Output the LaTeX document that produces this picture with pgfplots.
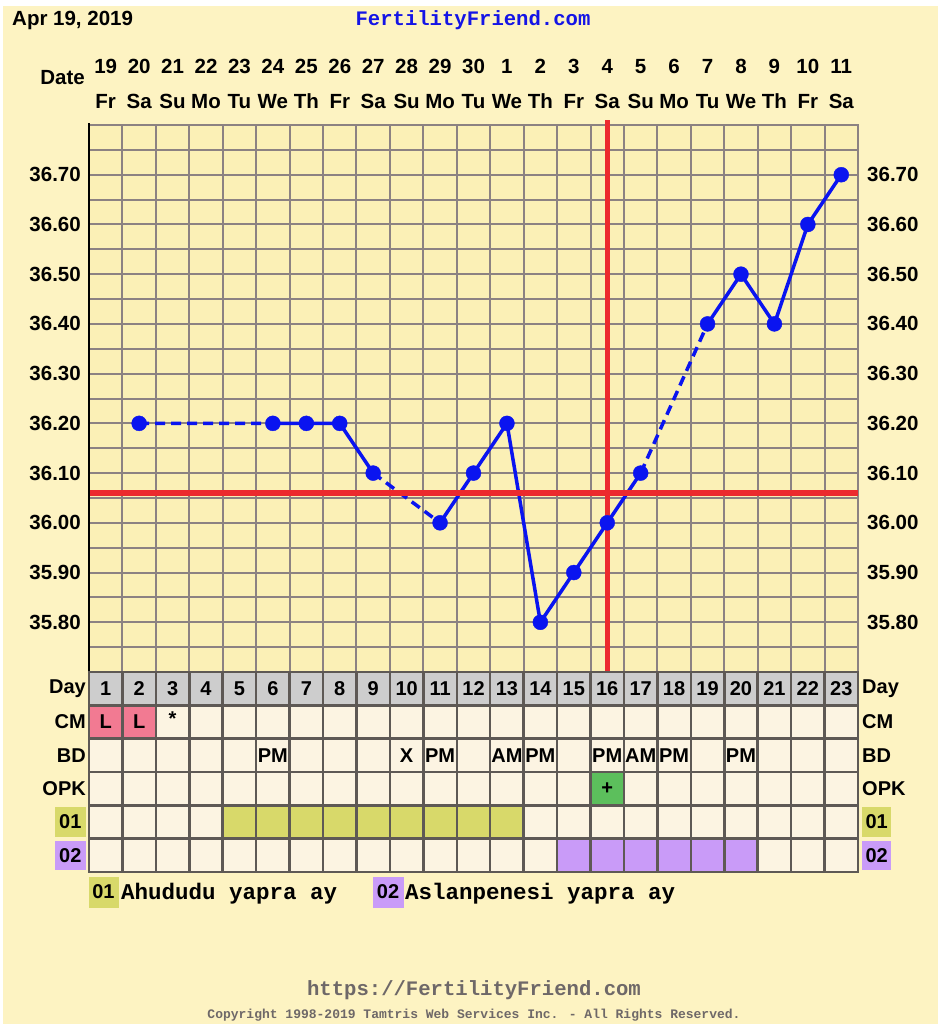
\documentclass[border=0pt]{standalone}
\usepackage{pgfplots}
\pgfplotsset{compat=1.18}
\usepackage{fontspec}
\setmainfont{Liberation Sans}
\newfontfamily\monofont{Liberation Mono}
\definecolor{pagebg}{HTML}{FDF3C2}
\definecolor{plotbg}{HTML}{FBF0B6}
\definecolor{gridc}{HTML}{8C8282}
\definecolor{cellbg}{HTML}{FCF4E2}
\definecolor{dayrow}{HTML}{CDCDCD}
\definecolor{tablegrid}{HTML}{5E5955}
\definecolor{cmpink}{HTML}{F27A92}
\definecolor{opkgreen}{HTML}{5CBF5C}
\definecolor{olive}{HTML}{D8D96A}
\definecolor{purp}{HTML}{C99BF8}
\definecolor{tempblue}{HTML}{0A14F0}
\definecolor{redline}{HTML}{EC2A2E}
\definecolor{titleblue}{HTML}{1414E6}
\definecolor{footgray}{HTML}{6E6868}
\newcommand{\bfs}{\fontsize{20.5}{35}\selectfont\bfseries}
\tikzset{tbl/.style={font=\fontsize{20}{24}\selectfont\bfseries}}
\begin{document}
\begin{tikzpicture}[x=1pt,y=-1pt]
\fill[white] (0,0) rectangle (938,1024);
\fill[pagebg] (3,6) rectangle (938,1024);

% ---------------- temperature axis ----------------
\begin{axis}[
  at={(89pt,-672pt)}, anchor=south west,
  scale only axis, width=769pt, height=547pt,
  xmin=0.5, xmax=23.5, ymin=35.70, ymax=36.80,
  clip=false,
  axis background/.style={fill=plotbg},
  axis line style={draw=gridc, line width=2pt},
  major tick length=0pt, minor tick length=0pt,
  xtick={1,...,23},
  xticklabels={{19\\Fr},{20\\Sa},{21\\Su},{22\\Mo},{23\\Tu},{24\\We},{25\\Th},{26\\Fr},{27\\Sa},{28\\Su},{29\\Mo},{30\\Tu},{1\\We},{2\\Th},{3\\Fr},{4\\Sa},{5\\Su},{6\\Mo},{7\\Tu},{8\\We},{9\\Th},{10\\Fr},{11\\Sa}},
  xticklabel pos=upper,
  xticklabel style={align=center, font=\bfs, inner sep=0pt, anchor=south, yshift=16pt},
  extra x ticks={1.5,2.5,3.5,4.5,5.5,6.5,7.5,8.5,9.5,10.5,11.5,12.5,13.5,14.5,15.5,16.5,17.5,18.5,19.5,20.5,21.5,22.5},
  extra x tick labels={},
  extra x tick style={grid=major},
  ytick={35.8,35.9,36.0,36.1,36.2,36.3,36.4,36.5,36.6,36.7},
  minor ytick={35.75,35.85,35.95,36.05,36.15,36.25,36.35,36.45,36.55,36.65,36.75},
  ymajorgrids, yminorgrids,
  major grid style={draw=gridc, line width=2pt},
  minor grid style={draw=gridc, line width=2pt},
  yticklabel style={font=\bfs, inner sep=0pt, xshift=-8pt},
  /pgf/number format/.cd, fixed, fixed zerofill, precision=2, assume math mode=true,
]
% dashed gaps
\addplot[tempblue, line width=3.5pt, dash pattern=on 10pt off 6pt, unbounded coords=jump]
  coordinates {(2,36.20)(6,36.20)(7,nan)(9,36.10)(11,36.00)(12,nan)(17,36.10)(19,36.40)};
% solid runs
\addplot[tempblue, line width=3.5pt, line join=round, unbounded coords=jump]
  coordinates {(6,36.20)(7,36.20)(8,36.20)(9,36.10)(10,nan)(11,36.00)(12,36.10)(13,36.20)(14,35.80)(15,35.90)(16,36.00)(17,36.10)(18,nan)(19,36.40)(20,36.50)(21,36.40)(22,36.60)(23,36.70)};
% points
\addplot[only marks, mark=*, mark size=7.5pt, mark options={fill=tempblue, draw=tempblue}]
  coordinates {(2,36.20)(6,36.20)(7,36.20)(8,36.20)(9,36.10)(11,36.00)(12,36.10)(13,36.20)(14,35.80)(15,35.90)(16,36.00)(17,36.10)(19,36.40)(20,36.50)(21,36.40)(22,36.60)(23,36.70)};
% coverline and ovulation line
\addplot[redline, line width=5.5pt] coordinates {(0.5,36.06)(23.5,36.06)};
\addplot[redline, line width=5pt] coordinates {(16,35.70)(16,36.81)};
\draw[black, line width=2.5pt] (axis cs:0.5,35.70) -- (axis cs:0.5,36.805);
\end{axis}

% right-hand tick labels
\begin{axis}[
  at={(89pt,-672pt)}, anchor=south west,
  scale only axis, width=769pt, height=547pt,
  xmin=0.5, xmax=23.5, ymin=35.70, ymax=36.80,
  axis line style={draw=none}, major tick length=0pt,
  xtick=\empty,
  ytick={35.8,35.9,36.0,36.1,36.2,36.3,36.4,36.5,36.6,36.7},
  yticklabel pos=right,
  yticklabel style={font=\bfs, inner sep=0pt, anchor=west, xshift=9pt},
  /pgf/number format/.cd, fixed, fixed zerofill, precision=2, assume math mode=true,
]
\end{axis}

% ---------------- chart table ----------------
\begin{axis}[
  at={(89pt,-872pt)}, anchor=south west,
  scale only axis, width=769pt, height=200pt,
  xmin=0.5, xmax=23.5, ymin=0, ymax=6,
  clip=false, axis on top,
  axis background/.style={fill=cellbg},
  axis line style={draw=tablegrid, line width=2.5pt},
  major tick length=0pt,
  xtick={1.5,2.5,3.5,4.5,5.5,6.5,7.5,8.5,9.5,10.5,11.5,12.5,13.5,14.5,15.5,16.5,17.5,18.5,19.5,20.5,21.5,22.5},
  ytick={1,2,3,4,5},
  xticklabels={}, yticklabels={},
  grid=major,
  major grid style={draw=tablegrid, line width=2.5pt},
]
\fill[dayrow] (axis cs:0.5,5) rectangle (axis cs:23.5,6);
\fill[cmpink] (axis cs:0.5,4) rectangle (axis cs:2.5,5);
\fill[opkgreen] (axis cs:15.5,2) rectangle (axis cs:16.5,3);
\fill[olive] (axis cs:4.5,1) rectangle (axis cs:13.5,2);
\fill[purp] (axis cs:14.5,0) rectangle (axis cs:20.5,1);
\pgfplotsinvokeforeach{1,...,23}{\node[tbl] at (axis cs:#1,5.5) {#1};}
\node[tbl] at (axis cs:1,4.5) {L};
\node[tbl] at (axis cs:2,4.5) {L};
\node[tbl] at (axis cs:3,4.6) {*};
\node[tbl] at (axis cs:6,3.5) {PM};
\node[tbl] at (axis cs:10,3.5) {X};
\node[tbl] at (axis cs:11,3.5) {PM};
\node[tbl] at (axis cs:13,3.5) {AM};
\node[tbl] at (axis cs:14,3.5) {PM};
\node[tbl] at (axis cs:16,3.5) {PM};
\node[tbl] at (axis cs:17,3.5) {AM};
\node[tbl] at (axis cs:18,3.5) {PM};
\node[tbl] at (axis cs:20,3.5) {PM};
\node[tbl] at (axis cs:16,2.5) {+};
% row labels, left
\node[tbl, anchor=east, inner sep=3pt] at (axis cs:0.5,5.5) {Day};
\node[tbl, anchor=east, inner sep=3pt] at (axis cs:0.5,4.5) {CM};
\node[tbl, anchor=east, inner sep=3pt] at (axis cs:0.5,3.5) {BD};
\node[tbl, anchor=east, inner sep=3pt] at (axis cs:0.5,2.5) {OPK};
\node[tbl, anchor=east, fill=olive, minimum width=31pt, minimum height=30pt, inner sep=0pt, xshift=-3pt] at (axis cs:0.5,1.5) {01};
\node[tbl, anchor=east, fill=purp, minimum width=31pt, minimum height=29pt, inner sep=0pt, xshift=-3pt] at (axis cs:0.5,0.5) {02};
% row labels, right
\node[tbl, anchor=west, inner sep=4pt] at (axis cs:23.5,5.5) {Day};
\node[tbl, anchor=west, inner sep=4pt] at (axis cs:23.5,4.5) {CM};
\node[tbl, anchor=west, inner sep=4pt] at (axis cs:23.5,3.5) {BD};
\node[tbl, anchor=west, inner sep=4pt] at (axis cs:23.5,2.5) {OPK};
\node[tbl, anchor=west, fill=olive, minimum width=29pt, minimum height=30pt, inner sep=0pt, xshift=4pt] at (axis cs:23.5,1.5) {01};
\node[tbl, anchor=west, fill=purp, minimum width=29pt, minimum height=29pt, inner sep=0pt, xshift=4pt] at (axis cs:23.5,0.5) {02};
\end{axis}

% ---------------- texts ----------------
\node[anchor=west, inner sep=0pt, font=\fontsize{20.5}{24}\selectfont\bfseries] at (12,20) {Apr 19, 2019};
\node[inner sep=0pt, text=titleblue, font=\fontsize{20.6}{24}\monofont\bfseries] at (473,20) {FertilityFriend.com};
\node[anchor=east, inner sep=0pt, font=\fontsize{20.5}{24}\selectfont\bfseries] at (85,78) {Date};

% legend
\node[tbl, fill=olive, minimum width=30pt, minimum height=31pt, inner sep=0pt] at (103.5,892) {01};
\node[anchor=base west, inner sep=0pt, font=\fontsize{22.5}{26}\monofont\bfseries] at (121,899) {Ahududu yapra ay};
\node[tbl, fill=purp, minimum width=31pt, minimum height=31pt, inner sep=0pt] at (388,892) {02};
\node[anchor=base west, inner sep=0pt, font=\fontsize{22.5}{26}\monofont\bfseries] at (405,899) {Aslanpenesi yapra ay};

% footer
\node[inner sep=0pt, text=footgray, font=\fontsize{20.6}{24}\monofont\bfseries] at (474,990) {https://FertilityFriend.com};
\node[inner sep=0pt, text=footgray, font=\fontsize{13}{15}\monofont\bfseries] at (474,1015) {Copyright 1998-2019 Tamtris Web Services Inc. - All Rights Reserved.};

\pgfresetboundingbox
\useasboundingbox (0,0) rectangle (938,1024);
\end{tikzpicture}
\end{document}
